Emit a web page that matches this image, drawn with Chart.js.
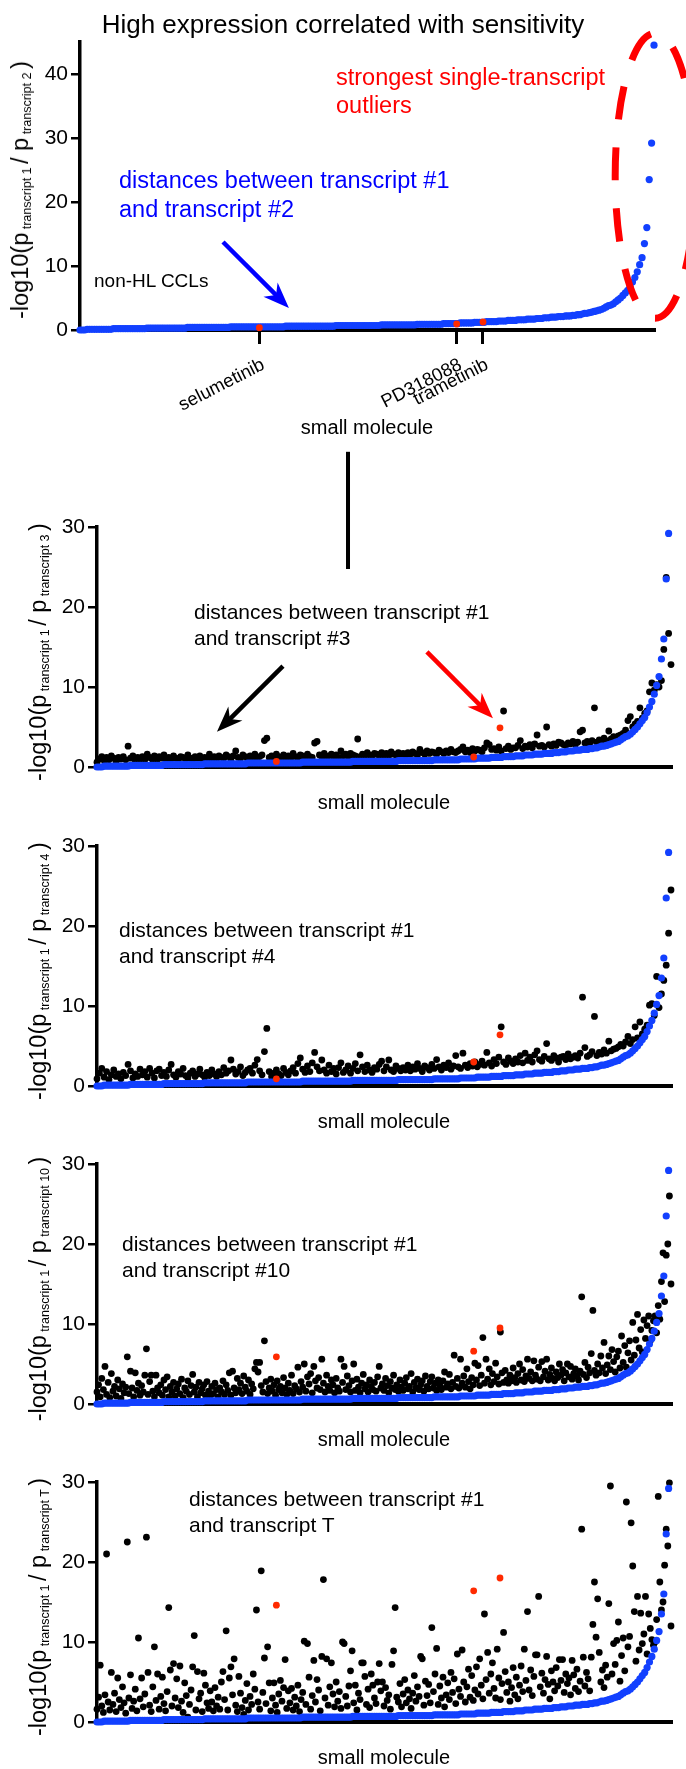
<!DOCTYPE html>
<html>
<head>
<meta charset="utf-8">
<script src="https://cdn.jsdelivr.net/npm/chart.js@4.4.1/dist/chart.umd.min.js"></script>
<style>
body { margin: 0; background: #fff; }
#page { position: relative; width: 686px; height: 1769px; overflow: hidden; font-family: "Liberation Sans", Arial, Helvetica, sans-serif; color: #000; }
canvas { position: absolute; left: 0; }
.txt { position: absolute; white-space: nowrap; }
.ylab { position: absolute; white-space: nowrap; font-size: 23.5px; line-height: 26px; transform: translate(-50%, -50%) rotate(-90deg); }
.ylab sub { font-size: 12.5px; vertical-align: -3px; line-height: 0; }
</style>
</head>
<body>
<div id="page">
  <canvas id="c1"></canvas>
  <canvas id="c2"></canvas>
  <canvas id="c3"></canvas>
  <canvas id="c4"></canvas>
  <canvas id="c5"></canvas>

  <div class="txt" style="left:0;width:686px;text-align:center;top:8.5px;font-size:26px;line-height:31px;">High expression correlated with sensitivity</div>
  <div class="txt" style="left:336px;top:62.9px;font-size:23.5px;line-height:28px;color:#ff0000;">strongest single-transcript<br>outliers</div>
  <div class="txt" style="left:119px;top:166.4px;font-size:23.5px;line-height:29px;color:#0000ff;">distances between transcript #1<br>and transcript #2</div>
  <div class="txt" style="left:94px;top:268.9px;font-size:19px;line-height:23px;">non-HL CCLs</div>

  <div class="txt" style="left:194px;top:598.7px;font-size:21px;line-height:26px;">distances between transcript #1<br>and transcript #3</div>
  <div class="txt" style="left:119px;top:916.7px;font-size:21px;line-height:26px;">distances between transcript #1<br>and transcript #4</div>
  <div class="txt" style="left:122px;top:1230.7px;font-size:21px;line-height:26px;">distances between transcript #1<br>and transcript #10</div>
  <div class="txt" style="left:189px;top:1485.7px;font-size:21px;line-height:26px;">distances between transcript #1<br>and transcript T</div>

  <div class="ylab" style="left:20px;top:190px;">-log10(p<sub> transcript 1 </sub>/ p<sub> transcript 2 </sub>)</div>
  <div class="ylab" style="left:38px;top:652px;">-log10(p<sub> transcript 1 </sub>/ p<sub> transcript 3 </sub>)</div>
  <div class="ylab" style="left:38px;top:971px;">-log10(p<sub> transcript 1 </sub>/ p<sub> transcript 4 </sub>)</div>
  <div class="ylab" style="left:38px;top:1289px;">-log10(p<sub> transcript 1 </sub>/ p<sub> transcript 10 </sub>)</div>
  <div class="ylab" style="left:38px;top:1607px;">-log10(p<sub> transcript 1 </sub>/ p<sub> transcript T </sub>)</div>
</div>

<script>
// small molecules are ranked 0..480 along x (sorted by the #1 vs #2 distance)
var rankMax = 480;
var xTickRanks = [150, 315, 337];
var xTickNames = ['selumetinib', 'PD318088', 'trametinib'];
var yTicksTop = [0, 10, 20, 30, 40];
var yTicksLow = [0, 10, 20, 30];

// transcript #1 vs #2 (blue), every second compound
var distT2 = [
  0,0,0,0.1,0.1,0.1,0.1,0.1,0.1,0.1,
  0.1,0.1,0.1,0.1,0.2,0.2,0.2,0.2,0.2,0.2,
  0.2,0.2,0.2,0.2,0.2,0.2,0.2,0.2,0.3,0.3,
  0.3,0.3,0.3,0.3,0.3,0.3,0.3,0.3,0.3,0.3,
  0.3,0.3,0.3,0.3,0.3,0.4,0.4,0.4,0.4,0.4,
  0.4,0.4,0.4,0.4,0.4,0.4,0.4,0.4,0.4,0.4,
  0.4,0.4,0.4,0.5,0.5,0.5,0.5,0.5,0.5,0.5,
  0.5,0.5,0.5,0.5,0.5,0.5,0.5,0.5,0.5,0.5,
  0.5,0.5,0.5,0.5,0.5,0.5,0.6,0.6,0.6,0.6,
  0.6,0.6,0.6,0.6,0.6,0.6,0.6,0.6,0.6,0.6,
  0.6,0.6,0.6,0.6,0.6,0.6,0.6,0.7,0.7,0.7,
  0.7,0.7,0.7,0.7,0.7,0.7,0.7,0.7,0.7,0.7,
  0.7,0.7,0.7,0.7,0.7,0.7,0.8,0.8,0.8,0.8,
  0.8,0.8,0.8,0.8,0.8,0.8,0.8,0.8,0.8,0.8,
  0.8,0.9,0.9,0.9,0.9,0.9,0.9,0.9,0.9,0.9,
  0.9,0.9,1.0,1.0,1.0,1.0,1.0,1.0,1.0,1.1,
  1.1,1.1,1.1,1.1,1.1,1.2,1.2,1.2,1.2,1.2,
  1.3,1.3,1.3,1.3,1.3,1.4,1.4,1.4,1.4,1.5,
  1.5,1.5,1.5,1.6,1.6,1.6,1.6,1.7,1.7,1.7,
  1.7,1.8,1.8,1.8,1.9,1.9,1.9,2.0,2.0,2.0,
  2.1,2.1,2.1,2.2,2.2,2.2,2.3,2.3,2.4,2.4,
  2.5,2.6,2.6,2.7,2.8,2.9,3.0,3.1,3.2,3.4,
  3.6,3.8,3.9,4.1,4.4,4.7,5.0,5.4,5.8,6.2,
  6.8,7.5,8.2,9.1,10.2,11.3,13.5,16.0,23.5,29.2,
  44.5
];

// transcript #1 vs #3, every second compound
var distT3 = [
  0.6,1.0,1.3,0.8,1.2,0.9,1.4,1.1,0.7,1.2,
  1.0,1.3,0.9,2.6,1.1,1.4,0.8,1.2,1.0,1.3,
  0.9,1.6,1.2,1.0,1.4,0.8,1.3,1.1,1.5,0.9,
  1.2,1.0,1.4,1.1,0.9,1.3,1.2,1.0,1.5,1.1,
  0.9,1.3,1.1,1.4,1.0,1.2,0.9,1.6,1.1,1.3,
  1.0,1.4,1.2,1.1,1.5,1.3,1.0,1.4,2.0,1.2,
  1.1,1.5,1.3,1.0,1.4,1.2,1.6,1.1,1.3,1.5,
  3.3,3.6,1.2,1.4,1.0,1.6,1.3,1.1,1.5,1.2,
  1.4,1.1,1.7,1.3,1.2,1.5,1.4,1.1,1.6,1.3,
  1.2,3.0,3.2,1.5,1.3,1.7,1.2,1.4,1.6,1.3,
  1.5,1.2,2.0,1.4,1.6,1.3,1.7,1.5,1.4,3.5,
  1.3,1.6,1.4,1.8,1.5,1.3,1.7,1.6,1.4,1.8,
  1.5,1.7,1.4,1.9,1.6,1.5,1.8,1.6,1.7,1.5,
  1.8,1.6,1.9,1.7,1.5,2.2,1.8,1.6,2.0,1.7,
  1.9,1.8,1.6,2.1,1.9,1.7,2.0,1.8,2.2,1.9,
  1.8,2.0,2.2,2.5,1.9,2.1,1.8,2.3,2.0,2.2,
  2.1,1.9,2.4,3.0,2.8,2.2,2.3,2.1,2.5,2.0,
  7.0,2.3,2.6,2.2,2.4,2.4,2.7,3.3,2.3,2.6,
  2.5,2.8,2.4,2.9,4.0,2.6,2.7,2.5,5.0,2.8,
  2.6,2.9,2.7,3.1,3.0,2.8,2.7,3.0,2.9,3.2,
  2.8,3.1,4.4,4.6,3.0,3.2,2.9,3.3,7.4,3.1,
  3.4,3.2,3.6,3.3,4.5,3.5,3.8,3.7,3.9,4.0,
  4.2,4.6,5.8,6.3,5.0,5.4,5.7,7.4,6.1,6.7,
  7.0,9.4,10.5,9.6,10.3,10.0,10.8,14.7,23.7,16.7,
  12.8
];

// transcript #1 vs #4, every second compound
var distT4 = [
  0.9,1.6,2.2,1.1,1.8,0.8,1.4,2.0,1.2,1.5,
  0.9,1.7,1.3,2.7,1.9,1.0,1.5,1.2,2.1,1.4,
  1.8,1.1,2.2,1.6,1.0,1.9,2.1,1.3,1.7,1.2,
  2.0,2.7,1.4,1.1,1.8,1.5,2.2,1.3,1.0,1.6,
  1.9,1.2,1.5,2.1,1.4,1.1,1.7,1.3,2.0,1.5,
  1.2,1.8,1.4,2.3,1.6,1.9,3.25,2.1,1.5,1.8,
  2.4,1.3,1.7,2.0,2.2,1.6,2.6,3.3,1.9,1.4,
  4.3,7.2,1.8,1.2,1.6,2.0,1.5,1.3,2.2,1.7,
  1.4,1.9,2.3,1.6,2.8,3.5,2.1,1.7,2.5,1.8,
  2.9,4.2,2.4,1.9,3.25,2.0,1.6,2.6,1.8,2.2,
  1.5,2.3,2.9,1.7,2.0,2.5,1.6,2.2,2.8,1.9,
  3.9,2.4,1.8,2.6,2.0,1.7,2.3,2.1,2.7,3.1,
  1.9,2.4,3.25,2.0,1.8,2.5,2.2,1.9,2.3,2.0,
  2.6,1.9,2.4,2.1,2.8,2.2,1.8,2.5,2.3,2.0,
  2.7,2.2,3.3,2.4,2.0,2.6,2.3,2.9,2.1,2.5,
  3.8,2.4,2.2,4.1,2.6,2.3,2.8,2.5,3.0,2.4,
  2.7,3.1,2.6,4.2,2.9,2.5,3.3,2.8,3.6,7.4,
  3.0,2.7,3.5,3.1,2.8,3.4,3.0,3.8,2.9,4.1,
  3.2,3.6,3.0,3.9,4.4,3.3,3.1,3.7,5.3,3.4,
  3.2,3.8,3.5,3.0,3.6,3.7,3.3,4.0,3.4,3.6,
  3.8,3.5,4.1,11.1,4.8,3.7,3.9,4.3,8.7,3.8,
  4.2,4.0,4.5,4.1,5.6,4.4,4.6,4.7,4.9,5.2,
  5.0,5.5,6.2,5.3,5.8,7.4,6.0,8.0,6.5,7.1,
  7.6,10.1,10.3,8.8,13.7,9.8,11.5,13.2,15.1,19.1,
  24.5
];

// transcript #1 vs #10, 361 compounds across the range
var distT10 = [
  1.5,2.4,0.9,3.2,1.8,4.7,1.2,2.7,0.8,3.8,
  1.6,2.2,1.0,3.0,1.9,0.7,2.5,1.4,2.1,5.9,
  1.3,4.1,2.0,0.9,3.9,1.7,2.6,1.1,2.3,1.5,
  3.6,6.9,1.2,2.8,3.6,1.6,0.9,3.6,2.0,1.4,
  2.4,1.1,3.0,1.8,3.4,0.9,2.2,1.5,2.7,1.0,
  1.9,2.5,1.3,3.1,0.8,2.0,1.6,2.9,1.2,2.3,
  3.7,1.5,2.1,0.9,2.7,1.4,1.9,2.4,1.1,2.8,
  1.6,1.0,2.2,1.3,2.6,1.8,0.9,2.0,1.5,2.9,
  1.2,2.4,1.7,3.9,1.1,4.1,2.0,1.4,3.2,1.8,
  2.6,1.3,3.5,2.1,1.6,3.0,1.2,2.5,1.9,4.4,
  5.2,4.0,5.2,2.3,1.5,7.9,2.8,1.3,2.0,3.1,
  1.6,2.4,1.1,2.9,1.8,2.2,1.4,3.3,2.0,1.2,
  2.6,1.7,3.6,1.3,2.3,1.9,4.6,1.5,2.8,2.1,
  5.0,1.6,3.4,2.5,3.8,1.4,4.7,2.9,2.0,3.3,
  1.8,5.6,2.6,1.5,3.6,2.2,1.7,3.0,2.4,1.4,
  3.2,2.0,1.6,5.6,2.7,4.7,1.8,3.5,2.3,1.5,
  2.9,5.0,1.7,3.1,2.1,1.4,2.6,3.7,1.9,2.4,
  1.5,3.0,2.2,1.8,2.7,1.6,3.4,4.7,2.0,2.5,
  1.7,3.2,2.3,1.4,2.8,2.0,3.6,1.8,2.4,1.6,
  3.0,2.1,1.7,2.6,3.3,1.9,2.2,3.8,1.5,2.7,
  2.0,3.1,1.8,2.4,2.9,1.6,3.5,2.2,1.9,2.8,
  3.4,2.0,2.6,1.7,3.0,2.3,1.8,2.9,4.0,2.1,
  2.5,3.7,1.9,2.7,6.1,2.2,3.2,2.0,5.6,2.6,
  3.5,2.1,4.4,2.8,1.9,3.3,2.4,5.1,3.0,4.8,
  2.3,3.6,8.3,2.6,5.6,3.1,4.4,2.4,3.8,2.8,
  5.1,3.4,2.5,9.0,3.9,2.7,4.2,3.0,2.6,3.6,
  2.9,4.5,3.3,2.7,3.8,5.0,3.0,4.3,2.8,3.5,
  5.6,3.2,4.0,2.9,5.4,3.6,3.1,4.6,2.9,5.3,
  3.4,4.1,5.6,3.0,3.7,4.5,3.2,2.9,4.0,3.3,
  5.0,3.6,4.3,2.9,3.9,5.0,3.4,4.7,3.1,3.8,
  4.4,3.5,3.0,4.1,13.4,3.7,5.2,3.3,4.6,3.9,
  6.3,11.7,4.2,3.6,5.0,3.9,6.0,4.5,7.7,3.8,
  4.9,6.0,4.3,6.8,5.3,4.0,5.9,6.6,4.5,8.5,
  5.2,7.3,4.6,6.4,7.9,5.5,10.2,6.1,8.0,11.2,
  7.0,9.3,6.5,10.5,8.2,9.8,11.0,7.9,9.2,10.4,
  11.0,8.9,12.3,10.6,15.3,18.9,12.8,18.6,20.0,26.0,
  15.0
];

// transcript #1 vs transcript T, 361 compounds across the range
var distTT = [
  1.6,3.1,7.1,2.0,1.2,3.4,21.0,2.5,1.5,6.2,
  2.2,3.6,1.3,5.5,2.8,1.8,4.4,2.4,1.1,22.5,
  3.0,5.9,1.7,2.6,4.1,1.4,10.5,2.9,5.5,1.9,
  3.5,23.1,6.2,2.1,1.3,4.4,9.4,2.7,6.0,1.6,
  3.2,5.6,2.3,1.4,3.8,14.3,6.5,2.0,7.3,3.0,
  5.4,1.8,7.0,2.6,1.2,4.9,3.3,0.6,2.2,4.0,
  6.9,10.8,1.5,6.3,2.9,3.6,1.3,6.1,4.6,2.4,
  1.7,3.9,2.5,1.4,4.3,2.0,3.1,1.6,5.0,6.3,
  2.8,11.4,1.5,5.5,6.9,3.4,7.9,2.1,1.3,5.7,
  3.6,1.8,0.95,2.7,4.8,1.5,3.2,2.2,6.0,4.1,
  14.0,2.5,1.6,18.9,3.7,8.0,2.3,9.4,4.9,1.4,
  3.0,4.9,2.1,1.2,3.5,5.2,2.6,4.3,7.8,1.7,
  3.9,2.4,4.2,1.5,3.1,2.0,4.6,1.3,2.8,3.7,
  10.1,2.2,9.8,5.6,1.6,3.3,7.7,2.5,5.3,4.0,
  1.4,8.2,17.8,3.0,7.9,2.1,4.4,7.4,3.5,1.9,
  5.0,2.6,3.8,1.7,10.0,9.8,3.2,2.0,4.5,6.4,
  8.9,2.4,4.6,1.5,3.6,2.8,7.4,7.4,5.7,2.2,
  4.1,1.8,6.0,4.6,3.0,2.3,5.0,7.3,3.9,5.0,
  2.0,4.3,2.7,3.4,1.6,7.2,8.9,14.3,3.1,2.5,
  4.8,1.9,3.5,5.3,2.4,4.0,2.9,1.7,3.6,5.8,
  2.6,4.4,3.2,8.2,7.9,2.1,5.1,3.3,4.7,2.4,
  11.8,3.8,6.0,9.2,2.2,4.5,3.0,5.6,1.9,3.4,
  4.9,2.8,6.2,3.7,5.4,2.3,8.5,4.1,3.2,9.0,
  5.0,2.5,4.4,6.6,3.1,5.8,2.7,4.0,6.9,3.5,
  7.9,4.6,2.9,13.5,5.3,8.7,3.6,6.0,7.4,4.2,
  3.0,9.1,5.5,2.8,4.8,11.2,6.3,3.7,5.0,2.6,
  4.3,6.8,3.4,5.6,2.9,4.6,7.0,3.8,9.1,5.2,
  13.8,4.0,6.5,3.3,5.7,8.4,8.4,15.7,4.4,6.1,
  3.6,5.3,8.2,4.7,2.9,6.4,5.0,3.9,6.8,4.5,
  7.8,5.2,7.8,3.7,6.0,4.8,5.5,3.4,7.7,5.9,
  4.2,6.6,3.8,5.1,24.1,8.1,4.5,6.2,5.4,3.9,
  8.1,12.2,17.5,10.6,15.4,8.7,5.0,6.5,4.3,7.1,
  5.6,14.8,29.5,6.0,9.8,7.2,10.2,12.5,5.1,8.3,
  10.5,6.4,27.5,9.4,10.7,24.9,19.5,13.8,7.6,15.7,
  9.0,13.6,9.8,11.0,15.7,8.5,13.5,11.7,10.3,9.6,
  10.0,12.8,28.2,17.5,14.0,15.0,19.6,24.1,22.0,29.9,
  12.0
];

// the three MEK inhibitors (red), same ranks as the x tick marks
var redT2 = [0.36, 0.94, 1.25];
var redT3 = [0.7, 1.25, 4.9];
var redT4 = [0.9, 3.0, 6.4];
var redT10 = [5.9, 6.6, 9.5];
var redTT = [14.6, 16.4, 18.0];

var blueDot = '#1240ff';
var redDot = '#ff2a00';

Chart.defaults.font.family = '"Liberation Sans", Arial, Helvetica, sans-serif';
Chart.defaults.color = '#000';

function toPoints(vals) {
	var step = rankMax / (vals.length - 1);
	return vals.map(function (v, i) { return { x: i * step, y: v }; });
}

function arrow(ctx, x1, y1, x2, y2, color, w) {
	var a = Math.atan2(y2 - y1, x2 - x1);
	var L = 26, H = 10;
	ctx.save();
	ctx.strokeStyle = color;
	ctx.fillStyle = color;
	ctx.lineWidth = w;
	ctx.beginPath();
	ctx.moveTo(x1, y1);
	ctx.lineTo(x2 - Math.cos(a) * L * 0.6, y2 - Math.sin(a) * L * 0.6);
	ctx.stroke();
	ctx.translate(x2, y2);
	ctx.rotate(a);
	ctx.beginPath();
	ctx.moveTo(0, 0);
	ctx.lineTo(-L, -H);
	ctx.lineTo(-L * 0.7, 0);
	ctx.lineTo(-L, H);
	ctx.closePath();
	ctx.fill();
	ctx.restore();
}

function makePanel(p) {
	var canvas = document.getElementById(p.id);
	canvas.width = 686;
	canvas.height = p.height;
	canvas.style.top = p.top + 'px';

	var datasets = [
		{ data: p.red.map(function (v, i) { return { x: xTickRanks[i], y: v }; }), pointRadius: 3.4, pointBackgroundColor: redDot },
		{ data: toPoints(distT2), pointRadius: 3.6, pointBackgroundColor: blueDot }
	];
	if (p.black) {
		datasets.push({ data: toPoints(p.black), pointRadius: 3.4, pointBackgroundColor: '#000' });
	}
	datasets.forEach(function (d) {
		d.pointBorderWidth = 0;
		d.pointHoverRadius = 0;
		d.clip = 8;
	});

	var xAxis = {
		type: 'linear', min: 0, max: rankMax,
		border: { display: true, width: 4, color: '#000' },
		grid: { display: !!p.named, drawOnChartArea: false, drawTicks: true, tickLength: 14, lineWidth: 3, color: '#000' },
		ticks: { display: !!p.named, autoSkip: false, minRotation: 27, maxRotation: 27, padding: 10, labelOffset: 4, font: { size: 18.5 },
			callback: function (v, i) { return xTickNames[i]; } },
		title: { display: true, text: 'small molecule', font: { size: 20 }, color: '#000', padding: 0 },
		afterFit: function (s) { s.height = p.xH; s.paddingLeft = 0; s.paddingRight = 0; }
	};
	if (p.named) {
		xAxis.afterBuildTicks = function (s) { s.ticks = xTickRanks.map(function (v) { return { value: v }; }); };
	}

	return new Chart(canvas, {
		type: 'scatter',
		data: { datasets: datasets },
		options: {
			responsive: false, animation: false, devicePixelRatio: 1, events: [],
			layout: { padding: { left: p.left - 70, right: 686 - p.right, top: p.padTop, bottom: 0 } },
			plugins: { legend: { display: false }, tooltip: { enabled: false } },
			scales: {
				x: xAxis,
				y: {
					type: 'linear', min: 0, max: p.yMax,
					afterBuildTicks: function (s) { s.ticks = p.yTicks.map(function (v) { return { value: v }; }); },
					border: { display: true, width: 3.5, color: '#000' },
					grid: { drawOnChartArea: false, drawTicks: true, tickLength: 9, lineWidth: 2.5, color: '#000' },
					ticks: { font: { size: 21 }, color: '#000', padding: 3 },
					afterFit: function (s) { s.width = 70; s.paddingTop = 0; s.paddingBottom = 0; }
				}
			}
		},
		plugins: [{ id: 'marks', afterDraw: p.marks || function () {} }]
	});
}

// top panel: only #1 vs #2
makePanel({
	id: 'c1', top: 0, height: 440, padTop: 42, xH: 110, left: 80, right: 654,
	yMax: 45, yTicks: yTicksTop, red: redT2, named: true,
	marks: function (chart) {
		var ctx = chart.ctx, x = chart.scales.x, y = chart.scales.y;
		ctx.save();
		ctx.strokeStyle = '#ff0000';
		ctx.lineWidth = 7;
		ctx.setLineDash([33, 28]);
		ctx.beginPath();
		ctx.ellipse(x.getPixelForValue(481), y.getPixelForValue(24.1), 40, 142.5, 0, 0, Math.PI * 2);
		ctx.stroke();
		ctx.restore();
		arrow(ctx, x.getPixelForValue(119.6), y.getPixelForValue(13.75), x.getPixelForValue(174.7), y.getPixelForValue(3.44), '#0000ff', 4.5);
	}
});

makePanel({
	id: 'c2', top: 447, height: 368, padTop: 80, xH: 48, left: 97, right: 671,
	yMax: 30, yTicks: yTicksLow, red: redT3, black: distT3,
	marks: function (chart) {
		var ctx = chart.ctx, x = chart.scales.x, y = chart.scales.y;
		var lx = x.getPixelForValue(209.9);
		ctx.save();
		ctx.fillStyle = '#000';
		ctx.fillRect(lx - 2, y.getPixelForValue(39.4), 4, y.getPixelForValue(24.75) - y.getPixelForValue(39.4));
		ctx.restore();
		arrow(ctx, x.getPixelForValue(155.5), y.getPixelForValue(12.6), x.getPixelForValue(100.3), y.getPixelForValue(4.4), '#000', 4.5);
		arrow(ctx, x.getPixelForValue(275.9), y.getPixelForValue(14.4), x.getPixelForValue(331.1), y.getPixelForValue(6.1), '#ff0000', 4.5);
	}
});

makePanel({ id: 'c3', top: 836, height: 298, padTop: 10, xH: 48, left: 97, right: 671,
	yMax: 30, yTicks: yTicksLow, red: redT4, black: distT4 });

makePanel({ id: 'c4', top: 1154, height: 298, padTop: 10, xH: 48, left: 97, right: 671,
	yMax: 30, yTicks: yTicksLow, red: redT10, black: distT10 });

makePanel({ id: 'c5', top: 1472, height: 298, padTop: 10, xH: 48, left: 97, right: 671,
	yMax: 30, yTicks: yTicksLow, red: redTT, black: distTT });
</script>
</body>
</html>
